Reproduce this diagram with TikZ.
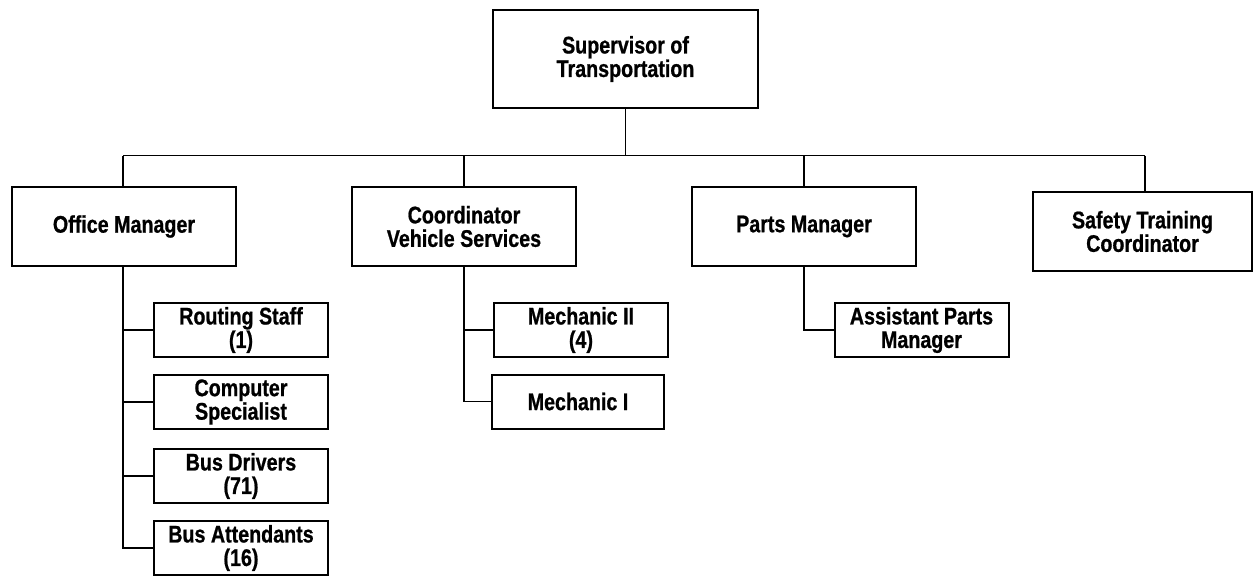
\documentclass[tikz,border=0pt]{standalone}
\usepackage{fontspec}
\newfontfamily\chartfont{Liberation Sans Bold}[FakeStretch=0.82,FakeBold=0.8]
\begin{document}
\begin{tikzpicture}[x=1pt,y=-1pt,
  box/.style={draw=black,line width=2pt,fill=white,inner sep=0pt,align=center,
    font=\chartfont\fontsize{24}{23.5}\selectfont},
  headbox/.style={box,minimum width=224pt,minimum height=79pt},
  subbox/.style={box,minimum width=174pt,minimum height=54pt},
  link/.style={draw=black,line width=1.6pt}]
\useasboundingbox (0,0) rectangle (1254,576);
% top of the chart
\node[box,minimum width=265pt,minimum height=98pt] (sup) at (625.5,59) {Supervisor of\\Transportation};
% second level
\node[headbox] (office) at (124,226.5) {Office Manager};
\node[headbox] (coord) at (464,226.5) {Coordinator\\Vehicle Services};
\node[headbox] (parts) at (804,226.5) {Parts Manager};
\node[headbox,minimum width=219pt] (safety) at (1142.5,231.5) {Safety Training\\Coordinator};
% office staff
\node[subbox] (routing) at (241,330) {Routing Staff\\(1)};
\node[subbox] (computer) at (241,402) {Computer\\Specialist};
\node[subbox] (drivers) at (241,476) {Bus Drivers\\(71)};
\node[subbox] (attend) at (241,548) {Bus Attendants\\(16)};
% vehicle services
\node[subbox] (mech2) at (581,330) {Mechanic II\\(4)};
\node[subbox,minimum width=172pt] (mech1) at (578,401.5) {Mechanic I};
% parts
\node[subbox] (asst) at (921.5,330) {Assistant Parts\\Manager};
% distribution bus
\coordinate (busL) at (123,155.5);
\coordinate (busR) at (1145,155.5);
\draw[link] (busL) -- (busR);
\draw[link] (sup.south) -- (sup.south |- busL);
\draw[link] (busL) -- (busL |- office.north);
\draw[link] (coord.north |- busL) -- (coord.north);
\draw[link] (parts.north |- busL) -- (parts.north);
\draw[link] (busR) -- (busR |- safety.north);
% office branch
\coordinate (oTrunk) at (123,0);
\draw[link,line width=2pt] (oTrunk |- office.south) -- (oTrunk |- attend.west) -- (attend.west);
\draw[link] (oTrunk |- routing.west) -- (routing.west);
\draw[link] (oTrunk |- computer.west) -- (computer.west);
\draw[link] (oTrunk |- drivers.west) -- (drivers.west);
% vehicle services branch
\draw[link,line width=1.9pt] (coord.south) -- (coord.south |- mech1.west) -- (mech1.west);
\draw[link] (coord.south |- mech2.west) -- (mech2.west);
% parts branch
\draw[link,line width=1.9pt] (parts.south) -- (parts.south |- asst.west) -- (asst.west);
\end{tikzpicture}
\end{document}
